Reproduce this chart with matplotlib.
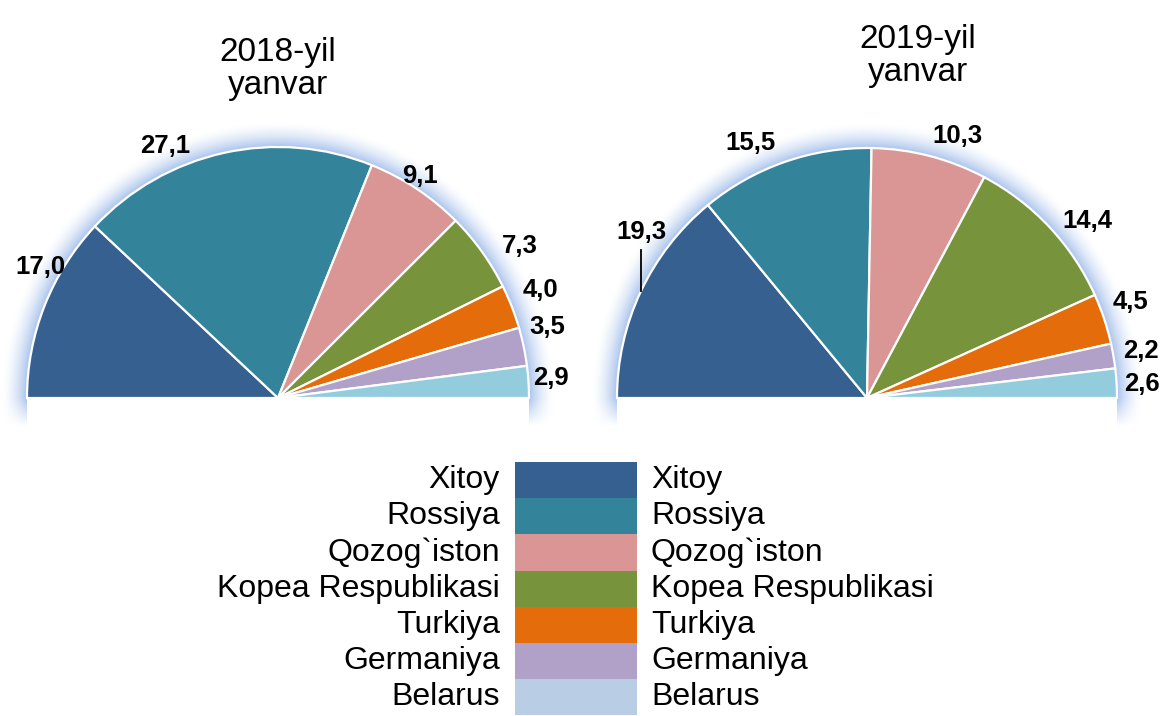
import numpy as np
import matplotlib.pyplot as plt
from matplotlib.colors import to_rgb

plt.rcParams['font.family'] = ['Liberation Sans', 'DejaVu Sans']

# данные
countries = ['Xitoy', 'Rossiya', 'Qozog`iston', 'Kopea Respublikasi',
             'Turkiya', 'Germaniya', 'Belarus']
vals_2018 = [17.0, 27.1, 9.1, 7.3, 4.0, 3.5, 2.9]
vals_2019 = [19.3, 15.5, 10.3, 14.4, 4.5, 2.2, 2.6]
titles = ['2018-yil\nyanvar', '2019-yil\nyanvar']

pie_colors = ['#36608f', '#33849b', '#d99694', '#77933c', '#e46c0a', '#b1a0c7', '#93cddd']
legend_colors = ['#36608f', '#33849b', '#d99694', '#77933c', '#e46c0a', '#b1a0c7', '#b9cde5']

W, H = 1168, 716
fig = plt.figure(figsize=(W / 100, H / 100), dpi=100)
ax = fig.add_axes([0, 0, 1, 1])


def glow(cx, cy, r, size=26, below=28):
    # голубое свечение вокруг полукруга
    xs = np.arange(cx - r - size - 2, cx + r + size + 2) + 0.5
    ys = np.arange(cy - below, cy + r + size + 2) + 0.5
    X, Y = np.meshgrid(xs, ys)
    dx, dy = X - cx, Y - cy
    d = np.where(dy >= 0, np.hypot(dx, dy) - r, np.abs(dx) - r)
    a = np.clip(1 - d / size, 0, 1) ** 1.7 * 0.6
    a[d < 0] = 0
    fade = np.where(dy < 0, np.clip(1 + dy / below, 0, 1), 1)
    a = a * fade
    img = np.zeros(X.shape + (4,))
    img[..., :3] = to_rgb('#6f9be0')
    img[..., 3] = a
    ax.imshow(img, extent=(xs[0] - 0.5, xs[-1] + 0.5, ys[0] - 0.5, ys[-1] + 0.5),
              origin='lower', zorder=1, interpolation='bilinear')


def half_pie(vals, cx, cy, r, nudges, dists, leader=None):
    total = sum(vals)
    # половина круга: последний сектор невидимый
    wedges, _ = ax.pie(vals + [total], colors=pie_colors + ['white'],
                       startangle=180, counterclock=False,
                       center=(cx, cy), radius=r,
                       wedgeprops=dict(edgecolor='white', linewidth=1.6))
    wedges[-1].set_visible(False)
    for w in wedges[:-1]:
        w.set_zorder(3)

    glow(cx, cy, r)

    for i, (w, v) in enumerate(zip(wedges[:-1], vals)):
        mid = (w.theta1 + w.theta2) / 2
        ang = np.radians(mid + nudges[i])
        x = cx + dists[i] * r * np.cos(ang)
        y = cy + dists[i] * r * np.sin(ang)
        lab = f'{v:.1f}'.replace('.', ',')
        ax.text(x, y, lab, ha='center', va='center', fontsize=18.5,
                fontweight='bold', zorder=5)
        if leader == i:
            m = np.radians(mid)
            px = cx + r * np.cos(m)
            py = cy + r * np.sin(m)
            ax.plot([px, px], [py, y - 18], color='black', lw=1.3, zorder=5)


half_pie(vals_2018, 278, H - 398, 251,
         nudges=[-7.4, 11.6, 1, -3.5, 1, 3, 0.5],
         dists=[1.08, 1.10, 1.05, 1.14, 1.13, 1.11, 1.09])
half_pie(vals_2019, 867, H - 398, 250,
         nudges=[-11, 5.4, -4.5, -4.5, 1.5, 0, -0.4],
         dists=[1.12, 1.12, 1.11, 1.13, 1.12, 1.11, 1.10], leader=0)

ax.text(278, H - 69, titles[0], ha='center', va='center', fontsize=24, linespacing=1.1)
ax.text(918, H - 56, titles[1], ha='center', va='center', fontsize=24, linespacing=1.1)

# легенда
top = 462
h = 36.2
for i, (name, c) in enumerate(zip(countries, legend_colors)):
    y0 = H - (top + h * (i + 1))
    ax.bar(576, h, width=122, bottom=y0, color=c, lw=0, zorder=2)
    yc = y0 + h / 2
    ax.text(500, yc, name, ha='right', va='center', fontsize=23)
    ax.text(651, yc, name, ha='left', va='center', fontsize=23)

ax.set_xlim(0, W)
ax.set_ylim(0, H)
ax.set_aspect('equal')
ax.axis('off')

fig.savefig('out.png', dpi=100, facecolor='white')
